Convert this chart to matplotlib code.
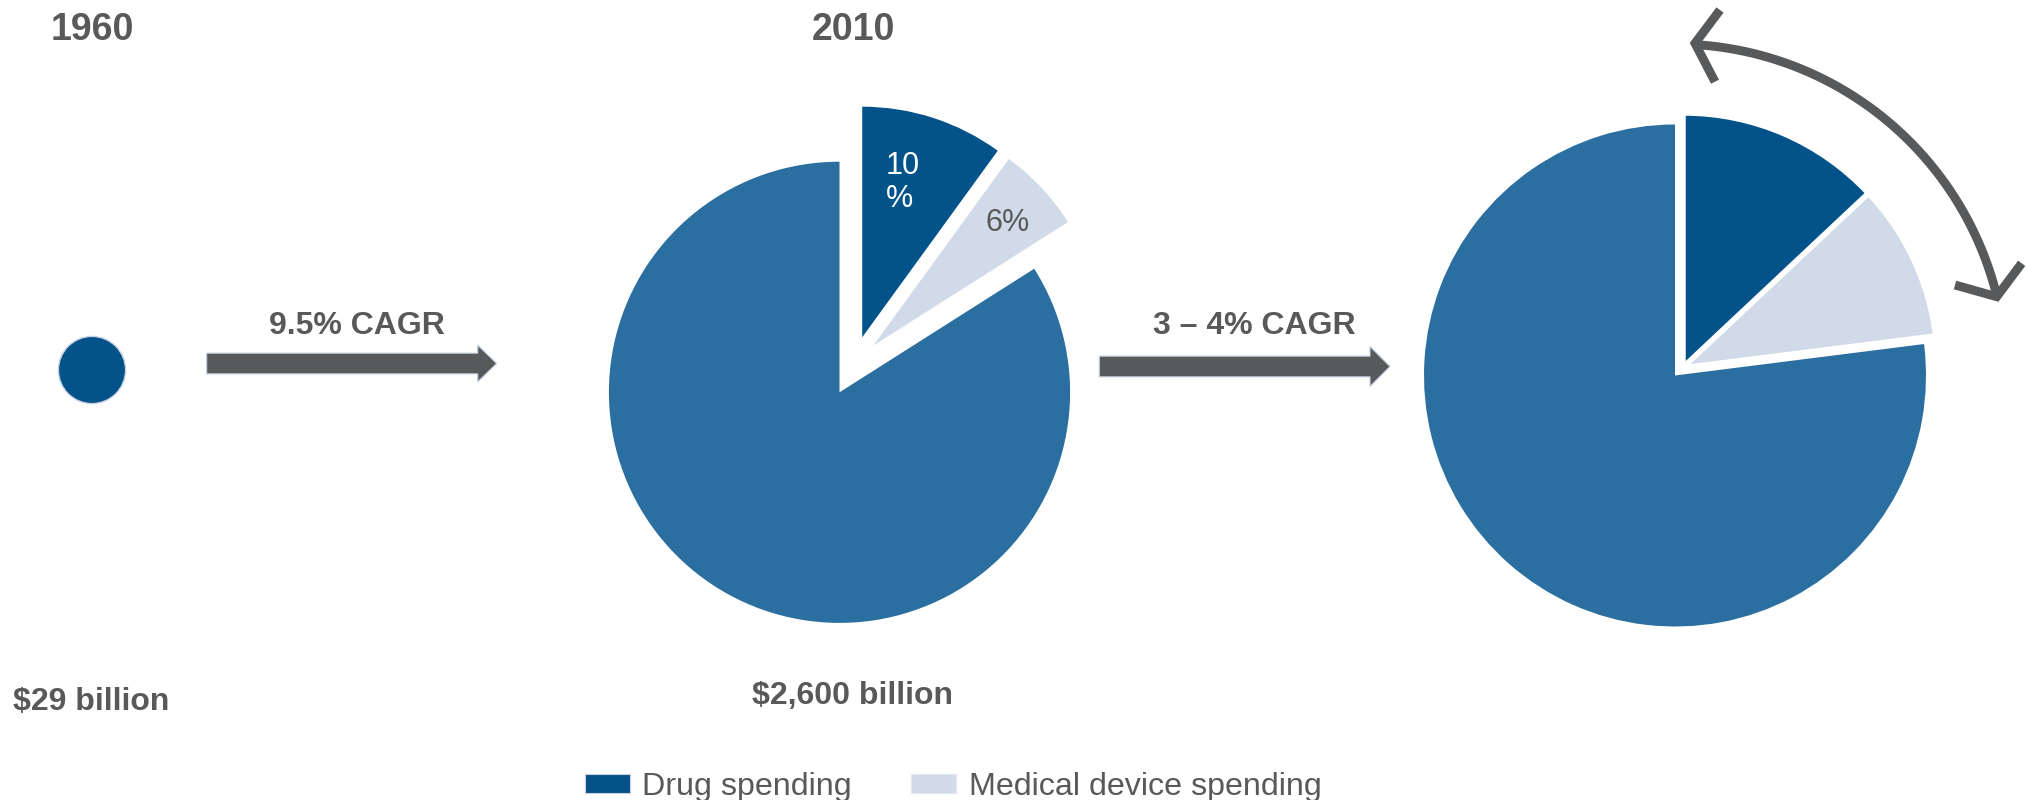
import numpy as np
import matplotlib.pyplot as plt
import matplotlib.patches as mpatches

# data
years = ['1960', '2010']
totals = ['$29 billion', '$2,600 billion']
growth = ['9.5% CAGR', '3 – 4% CAGR']
legend_labels = ['Drug spending', 'Medical device spending']
share_2010 = [10, 6, 84]      # drug, device, other
share_future = [13, 10, 77]
pie_labels_2010 = ['10\n%', '6%']

c_other = '#2A6FA0'
c_drug = '#03538A'
c_dev = '#D0DAE8'
grey = '#58595B'
txt = '#595959'

plt.rcParams['font.family'] = ['Liberation Sans', 'DejaVu Sans']

W, H = 2027, 800
fig = plt.figure(figsize=(W / 100, H / 100), dpi=100)
ax = fig.add_axes([0, 0, 1, 1])

def Y(p):
    return H - p

# 1960 dot
ax.add_patch(mpatches.Circle((92, Y(370)), 33.6, facecolor=c_drug, edgecolor='#C9D3E3', lw=1))

# 2010 pie (exploded)
w2, _ = ax.pie(share_2010, center=(839.5, Y(392.3)), radius=230.6, startangle=90,
               counterclock=False, colors=[c_drug, c_dev, c_other],
               wedgeprops=dict(linewidth=0))
w2[0].set_center((839.5 + 22.7, Y(392.3) + 55))
w2[1].set_center((839.5 + 33.8, Y(392.3) + 46.7))

# future pie
w3, _ = ax.pie(share_future, center=(1675, Y(375.5)), radius=251, startangle=90,
               counterclock=False, colors=[c_drug, c_dev, c_other],
               wedgeprops=dict(linewidth=2.5, edgecolor='white'))
w3[0].set_center((1675 + 9, Y(375.5) + 10.5))
w3[1].set_center((1675 + 10.5, Y(375.5) + 9))
w3[2].set_linewidth(0)

# labels inside 2010 pie
ax.text(886, Y(166), pie_labels_2010[0].split('\n')[0], color='white', fontsize=22, va='center', ha='left')
ax.text(886, Y(199), pie_labels_2010[0].split('\n')[1], color='white', fontsize=22, va='center', ha='left')
ax.text(1008, Y(223), pie_labels_2010[1], color=txt, fontsize=22, va='center', ha='center')

# growth arrows
ax.add_patch(mpatches.FancyArrow(206.7, Y(363.5), 290, 0, width=20.7, head_width=36.7,
                                 head_length=19, length_includes_head=True,
                                 facecolor=grey, edgecolor='#C5D0E2', lw=0.8))
ax.add_patch(mpatches.FancyArrow(1099.3, Y(366.5), 290.7, 0, width=20.7, head_width=40,
                                 head_length=20, length_includes_head=True,
                                 facecolor=grey, edgecolor='#C5D0E2', lw=0.8))

# curved double arrow around future pie
lw_arc = 6.4
th = np.radians(np.linspace(86.6, 13.8, 200))
ax.plot(1675 + 331.5 * np.cos(th), Y(375.5) + 331.5 * np.sin(th), color=grey, lw=lw_arc,
        solid_capstyle='butt')
ax.plot([1720, 1695, 1715], [Y(10), Y(43.3), Y(81.7)], color=grey, lw=lw_arc,
        solid_joinstyle='miter', solid_capstyle='butt')
ax.plot([2021.7, 1996.7, 1955], [Y(263.3), Y(296.7), Y(285)], color=grey, lw=lw_arc,
        solid_joinstyle='miter', solid_capstyle='butt')

# texts
ax.text(92, Y(30), years[0], fontsize=27, fontweight='bold', color=txt, ha='center', va='center')
ax.text(853, Y(30), years[1], fontsize=27, fontweight='bold', color=txt, ha='center', va='center')
ax.text(357, Y(326), growth[0], fontsize=23, fontweight='bold', color=txt, ha='center', va='center')
ax.text(1254, Y(326), growth[1], fontsize=23, fontweight='bold', color=txt, ha='center', va='center')
ax.text(13, Y(702), totals[0], fontsize=23, fontweight='bold', color=txt, ha='left', va='center')
ax.text(852, Y(696), totals[1], fontsize=23, fontweight='bold', color=txt, ha='center', va='center')

handles = [mpatches.Patch(facecolor=c_drug, edgecolor='#C9D3E3', lw=0.8),
           mpatches.Patch(facecolor=c_dev, edgecolor='#E5EAF2', lw=0.8)]
leg = fig.legend(handles, legend_labels, loc='center', bbox_to_anchor=(953 / W, 1 - 787 / H),
                 ncol=2, frameon=False, fontsize=23.2, borderpad=0, handlelength=1.4,
                 handleheight=0.56, handletextpad=0.38, columnspacing=1.85)
for t in leg.get_texts():
    t.set_color(txt)

ax.set_xlim(0, W)
ax.set_ylim(0, H)
ax.set_aspect('auto')
ax.axis('off')

fig.savefig('out.png', dpi=100)
